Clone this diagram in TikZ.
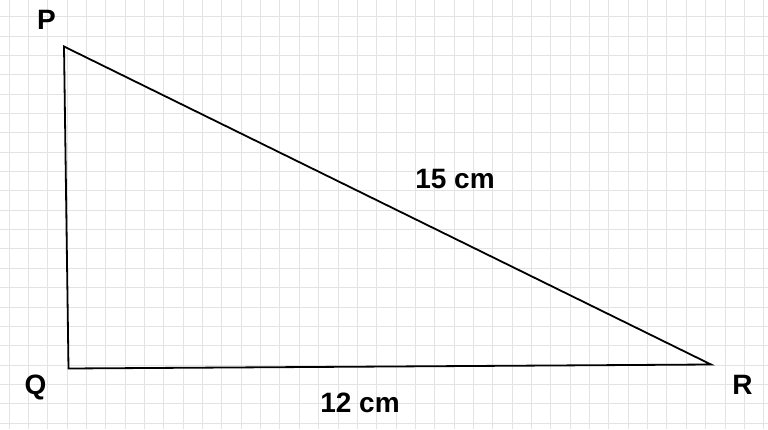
\documentclass[tikz,border=0pt]{standalone}
\usepackage{fontspec}
\setmainfont{Liberation Sans}
\begin{document}
\begin{tikzpicture}[x=1pt,y=1pt,
  gridline/.style={draw=black!11,line width=0.9pt},
  side/.style={draw=black,line width=1.8pt,line join=miter},
  lbl/.style={font=\bfseries\fontsize{28}{28}\selectfont,inner sep=0pt,text=black}]
\useasboundingbox (0,0) rectangle (768,429);
\fill[white] (0,0) rectangle (768,429);
\foreach \k in {0,...,39} {
  \draw[gridline] ({9+19.35*\k},0) -- ({9+19.35*\k},429);
}
\foreach \k in {0,...,21} {
  \draw[gridline] (0,{412.3-19.35*\k}) -- (768,{412.3-19.35*\k});
}
\coordinate (P) at (64,382.5);
\coordinate (Q) at (68.5,60.5);
\coordinate (R) at (711,64.5);
\draw[side] (P) -- (Q) -- (R) -- cycle;
\node[lbl] (lP) at (46.5,409) {P};
\node[lbl] (lQ) at (35.5,42) {Q};
\node[lbl] (lR) at (742.5,44) {R};
\node[lbl] (l15) at (455,250) {15 cm};
\node[lbl] (l12) at (360,26.5) {12 cm};
\end{tikzpicture}
\end{document}
